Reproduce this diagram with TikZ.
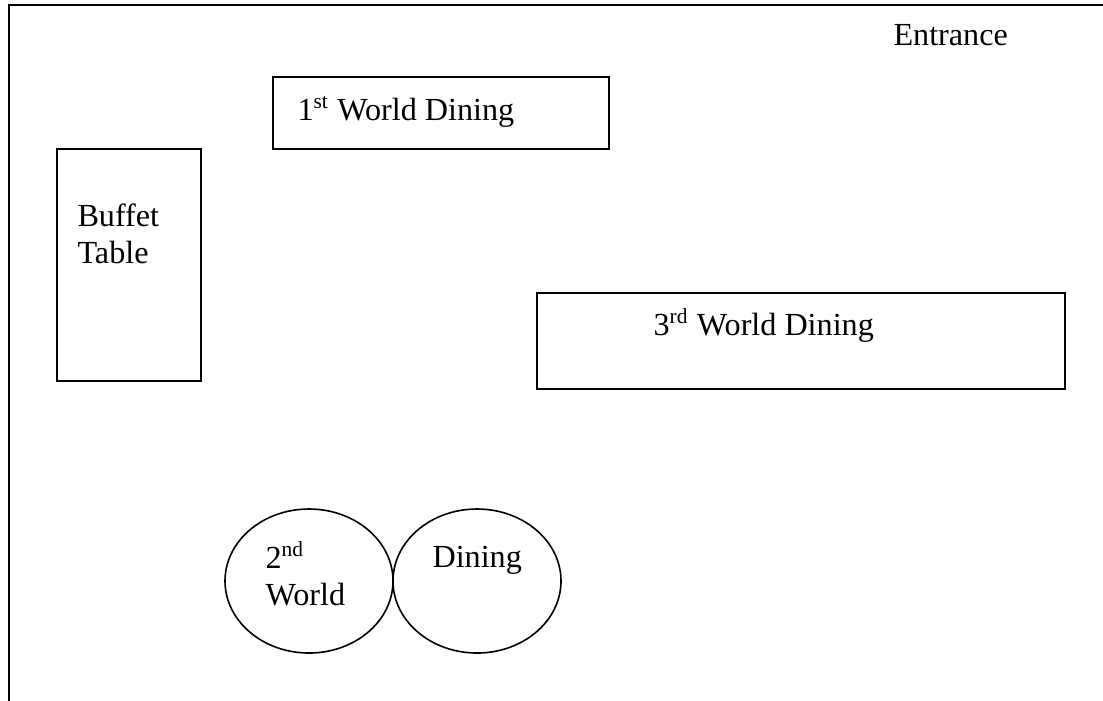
\documentclass[tikz,border=0pt]{standalone}
\usepackage{fontspec}
\setmainfont{Liberation Serif}
\usepackage{tikz}

\begin{document}
\begin{tikzpicture}[x=0.373pt,y=-0.373pt,
  t/.style={draw,line width=0.6pt},
  l/.style={anchor=base west,inner sep=0pt,font=\fontsize{12}{13.8}\selectfont}]
  \clip (0,0) rectangle (1103,700);
  \draw[line width=0.8pt] (9,5) rectangle (1130,730);
  \node[l] (ent) at (893,45) {Entrance};
  % tables
  \draw[t] (273,77) rectangle (609,149);
  \node[l] (first) at (297,120) {1\textsuperscript{st} World Dining};
  \draw[t] (57,149) rectangle (201,381);
  \node[l] (buf) at (77,226) {Buffet};
  \node[l] (tab) at (77,263) {Table};
  \draw[t] (537,293) rectangle (1065,389);
  \node[l] (third) at (653,335) {3\textsuperscript{rd} World Dining};
  \draw[t] (309,581) ellipse [x radius=84,y radius=72];
  \draw[t] (477,581) ellipse [x radius=84,y radius=72];
  \node[l] (sec) at (265,568) {2\textsuperscript{nd}};
  \node[l] (wld) at (265,605) {World};
  \node[l] (din) at (432,567) {Dining};
\end{tikzpicture}
\end{document}
